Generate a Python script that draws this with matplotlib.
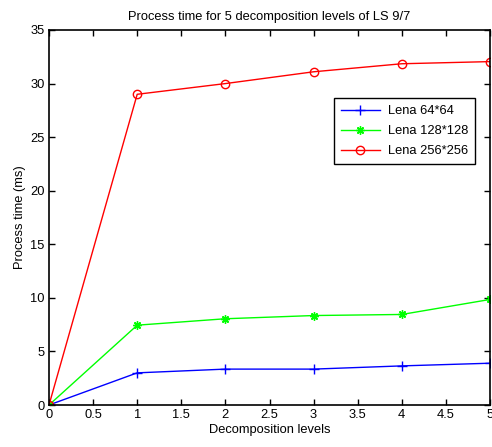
import matplotlib
matplotlib.use("Agg")
import matplotlib.pyplot as plt

levels = [0, 1, 2, 3, 4, 5]
lena64 = [0, 3.0, 3.35, 3.35, 3.65, 3.9]
lena128 = [0, 7.45, 8.05, 8.35, 8.45, 9.85]
lena256 = [0, 29.0, 30.0, 31.1, 31.85, 32.05]
xticks = [0, 0.5, 1, 1.5, 2, 2.5, 3, 3.5, 4, 4.5, 5]
yticks = [0, 5, 10, 15, 20, 25, 30, 35]

plt.rcParams['font.family'] = ['Liberation Sans', 'DejaVu Sans']
plt.rcParams['font.size'] = 9.3

fig = plt.figure(figsize=(4.92, 4.47), dpi=100)
ax = fig.add_axes([49/492, 1-405/447, (490-49)/492, (405-30)/447])

ax.plot(levels, lena64, color='#0000ff', marker='+', markersize=7, lw=1, label='Lena 64*64')
ax.plot(levels, lena128, color='#00ff00', marker=(8, 2, 0), markersize=6, lw=1, label='Lena 128*128')
ax.plot(levels, lena256, color='#ff0000', marker='o', markersize=6, markerfacecolor='none', lw=1, label='Lena 256*256')

ax.set_xlim(0, 5)
ax.set_ylim(0, 35)
ax.set_xticks(xticks)
ax.set_xticklabels([f'{t:g}' for t in xticks])
ax.set_yticks(yticks)
ax.tick_params(direction='in', top=True, right=True, length=4, width=1, pad=3)
for s in ax.spines.values():
    s.set_linewidth(1.2)

ax.set_title('Process time for 5 decomposition levels of LS 9/7', fontsize=9.3, pad=7)
ax.set_xlabel('Decomposition levels', labelpad=2)
ax.set_ylabel('Process time (ms)', labelpad=3)

leg = ax.legend(loc='upper right', bbox_to_anchor=(0.966, 0.819), borderaxespad=0, fancybox=False,
                edgecolor='black', framealpha=1, borderpad=0.55, handlelength=3.0,
                labelspacing=0.62, handletextpad=0.6)
leg.get_frame().set_linewidth(1.0)

fig.savefig('out.png', dpi=100)
